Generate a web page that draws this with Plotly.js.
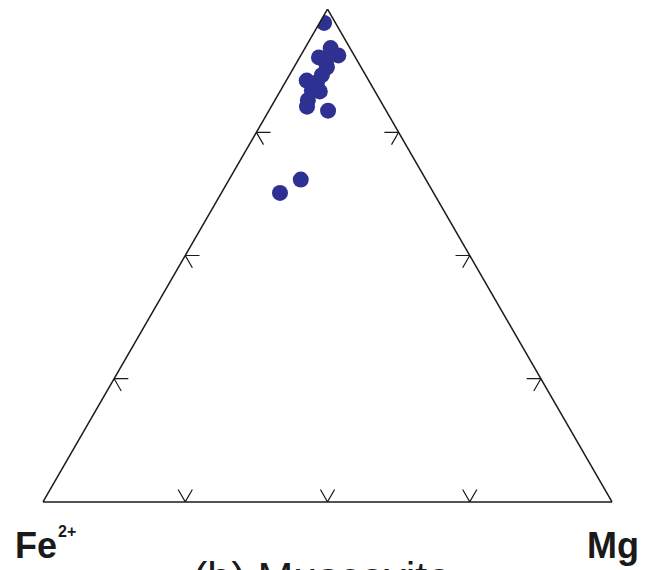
<!DOCTYPE html>
<html>
<head>
<meta charset="utf-8">
<script src="https://cdn.plot.ly/plotly-3.0.1.min.js"></script>
<style>html,body{margin:0;padding:0;background:#fff;}#chart{width:655px;height:570px;}</style>
</head>
<body>
<div id="chart"></div>
<script>
// Ternary components: A = top vertex, B = Fe2+ (bottom left), C = Mg (bottom right)
var compA = [0.972, 0.902, 0.921, 0.906, 0.882, 0.892, 0.855, 0.866, 0.851, 0.835, 0.833, 0.815, 0.802, 0.794, 0.654, 0.627];
var compFe = [0.020, 0.064, 0.034, 0.028, 0.060, 0.057, 0.109, 0.077, 0.093, 0.110, 0.097, 0.127, 0.135, 0.102, 0.220, 0.270];
var compMg = [0.008, 0.034, 0.045, 0.066, 0.058, 0.051, 0.036, 0.057, 0.056, 0.055, 0.070, 0.058, 0.063, 0.104, 0.126, 0.103];
var tickVals = [0.25, 0.5, 0.75];
var labelFe = 'Fe';
var labelFeSup = '2+';
var labelMg = 'Mg';
var titleText = '(b) Muscovite';

// tick "arrow" stubs along the grid directions
var L = 0.025;
var ta = [], tb = [], tc = [];
function seg(p1, p0, p2) {
  [p1, p0, p2].forEach(function (p) { ta.push(p[0]); tb.push(p[1]); tc.push(p[2]); });
  ta.push(null); tb.push(null); tc.push(null);
}
tickVals.forEach(function (t) {
  // left edge (Mg = 0)
  seg([t, 1 - t - L, L], [t, 1 - t, 0], [t - L, 1 - t, L]);
  // right edge (Fe = 0)
  seg([t, L, 1 - t - L], [t, 0, 1 - t], [t - L, L, 1 - t]);
  // bottom edge (A = 0)
  seg([L, 1 - t, t - L], [0, 1 - t, t], [L, 1 - t - L, t]);
});

var ticksTrace = {
  type: 'scatterternary', mode: 'lines',
  a: ta, b: tb, c: tc,
  line: {color: '#1a1a1a', width: 1.2},
  connectgaps: false, hoverinfo: 'skip', showlegend: false, cliponaxis: false
};
var pts = {
  type: 'scatterternary', mode: 'markers',
  a: compA, b: compFe, c: compMg,
  marker: {size: 16, color: '#2e3192', line: {width: 0}},
  hoverinfo: 'skip', showlegend: false
};

var ax = {
  title: {text: ''}, showline: true, linecolor: '#1a1a1a', linewidth: 1.5,
  showgrid: false, showticklabels: false, ticks: '', min: 0
};
var font = 'Liberation Sans, Arial, sans-serif';
var layout = {
  width: 655, height: 570,
  margin: {l: 43, r: 43, t: 9, b: 68, pad: 0},
  paper_bgcolor: '#ffffff', plot_bgcolor: '#ffffff',
  showlegend: false,
  ternary: {
    sum: 1, bgcolor: '#ffffff',
    domain: {x: [0, 1], y: [0, 1]},
    aaxis: ax, baxis: ax, caxis: ax
  },
  annotations: [
    {xref: 'paper', yref: 'paper', x: -0.053, y: -0.088, xanchor: 'left', yanchor: 'middle', showarrow: false,
     text: '<b>' + labelFe + '</b>', font: {family: font, size: 36, color: '#1a1a1a'}},
    {xref: 'paper', yref: 'paper', x: 0.023, y: -0.060, xanchor: 'left', yanchor: 'middle', showarrow: false,
     text: '<b>' + labelFeSup + '</b>', font: {family: font, size: 16, color: '#1a1a1a'}},
    {xref: 'paper', yref: 'paper', x: 1.051, y: -0.088, xanchor: 'right', yanchor: 'middle', showarrow: false,
     text: '<b>' + labelMg + '</b>', font: {family: font, size: 36, color: '#1a1a1a'}},
    {xref: 'paper', yref: 'paper', x: 0.490, y: -0.1515, xanchor: 'center', yanchor: 'middle', showarrow: false,
     text: titleText, font: {family: font, size: 43, color: '#1a1a1a'}}
  ]
};
Plotly.newPlot('chart', [ticksTrace, pts], layout, {displayModeBar: false, staticPlot: true});
</script>
</body>
</html>
